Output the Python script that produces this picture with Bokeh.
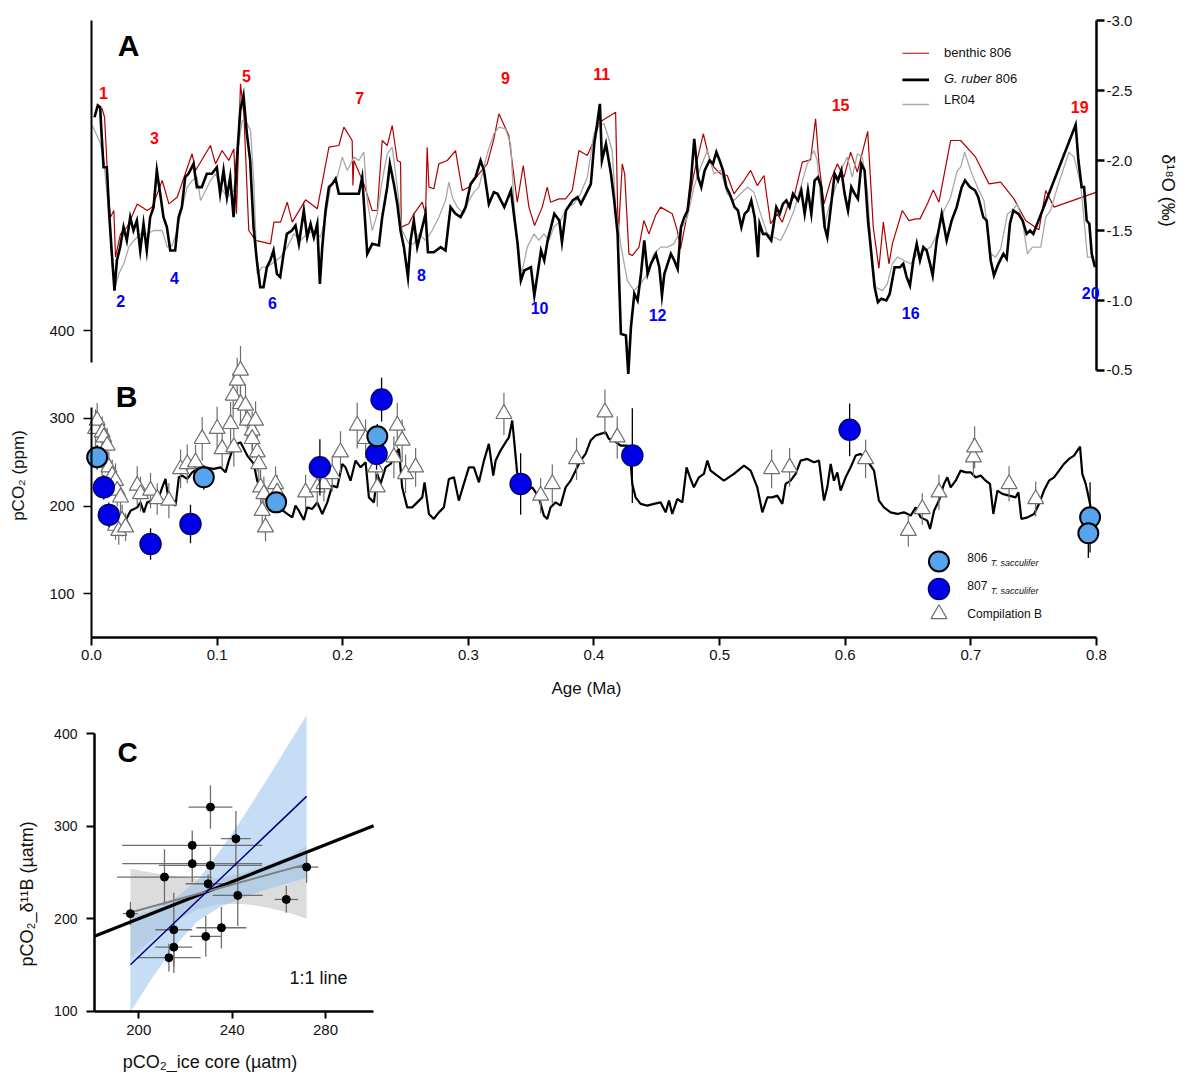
import math
import numpy as np
from bokeh.plotting import figure
from bokeh.models import (Range1d, LinearAxis, FixedTicker, NumeralTickFormatter,
                          Label, LabelSet, ColumnDataSource)
from bokeh.layouts import column
from bokeh.embed import file_html
from bokeh.resources import INLINE
from bokeh.core.properties import value, field

FONT = "Liberation Sans"

# ---------------- Panel A : d18O (age Ma, d18O permil) ----------------
ruber_806 = [
    (0.0024, -2.309), (0.0050, -2.393), (0.0069, -2.381), (0.0077, -2.238), (0.0096, -1.952),
    (0.0122, -1.952), (0.0141, -1.619), (0.0162, -1.333), (0.0183, -1.071), (0.0202, -1.286),
    (0.0228, -1.381), (0.0255, -1.524), (0.0281, -1.429), (0.0308, -1.595), (0.0334, -1.500),
    (0.0361, -1.571), (0.0388, -1.357), (0.0414, -1.548), (0.0440, -1.357), (0.0467, -1.595),
    (0.0494, -1.667), (0.0520, -1.929), (0.0547, -1.762), (0.0573, -1.595), (0.0600, -1.524),
    (0.0627, -1.357), (0.0666, -1.357), (0.0693, -1.595), (0.0719, -1.667), (0.0746, -1.881),
    (0.0772, -1.905), (0.0812, -1.976), (0.0839, -1.810), (0.0878, -1.810), (0.0918, -1.905),
    (0.0958, -1.905), (0.0998, -1.952), (0.1024, -1.762), (0.1051, -1.929), (0.1078, -1.738),
    (0.1104, -1.881), (0.1131, -1.595), (0.1157, -2.000), (0.1184, -2.357), (0.1210, -2.464),
    (0.1237, -2.190), (0.1263, -2.000), (0.1290, -1.524), (0.1316, -1.286), (0.1343, -1.095),
    (0.1369, -1.095), (0.1396, -1.238), (0.1423, -1.286), (0.1449, -1.357), (0.1476, -1.190),
    (0.1502, -1.167), (0.1529, -1.333), (0.1555, -1.476), (0.1595, -1.500), (0.1624, -1.536),
    (0.1651, -1.405), (0.1690, -1.643), (0.1717, -1.452), (0.1744, -1.548), (0.1770, -1.452),
    (0.1797, -1.548), (0.1818, -1.119), (0.1837, -1.381), (0.1863, -1.643), (0.1890, -1.810),
    (0.1916, -1.833), (0.1943, -1.869), (0.1969, -1.762), (0.2128, -1.762), (0.2155, -1.881),
    (0.2195, -1.333), (0.2235, -1.405), (0.2288, -1.393), (0.2314, -1.595), (0.2354, -1.810),
    (0.2375, -1.976), (0.2407, -1.833), (0.2434, -1.690), (0.2460, -1.500), (0.2487, -1.381),
    (0.2519, -1.167), (0.2540, -1.429), (0.2566, -1.571), (0.2593, -1.381), (0.2633, -1.524),
    (0.2659, -1.619), (0.2678, -1.345), (0.2725, -1.345), (0.2779, -1.381), (0.2818, -1.357),
    (0.2858, -1.667), (0.2898, -1.619), (0.2938, -1.595), (0.2978, -1.667), (0.3018, -1.833),
    (0.3057, -1.881), (0.3097, -2.000), (0.3124, -1.929), (0.3163, -1.690), (0.3203, -1.774),
    (0.3232, -1.762), (0.3286, -1.667), (0.3339, -1.786), (0.3365, -1.595), (0.3392, -1.405),
    (0.3418, -1.143), (0.3445, -1.214), (0.3498, -1.238), (0.3525, -1.036), (0.3551, -1.190),
    (0.3578, -1.357), (0.3604, -1.286), (0.3631, -1.429), (0.3684, -1.619), (0.3724, -1.571),
    (0.3745, -1.417), (0.3777, -1.643), (0.3830, -1.714), (0.3869, -1.738), (0.3896, -1.690),
    (0.3936, -1.762), (0.3975, -1.833), (0.4002, -2.119), (0.4029, -2.286), (0.4047, -2.405),
    (0.4063, -2.000), (0.4095, -2.119), (0.4135, -1.905), (0.4161, -1.714), (0.4188, -1.476),
    (0.4214, -0.762), (0.4254, -0.750), (0.4273, -0.476), (0.4294, -0.810), (0.4321, -1.048),
    (0.4347, -1.000), (0.4374, -1.190), (0.4400, -1.429), (0.4427, -1.190), (0.4453, -1.262),
    (0.4493, -1.333), (0.4520, -1.238), (0.4541, -1.036), (0.4560, -1.190), (0.4586, -1.262),
    (0.4612, -1.333), (0.4639, -1.286), (0.4666, -1.226), (0.4692, -1.524), (0.4719, -1.595),
    (0.4745, -1.643), (0.4772, -1.857), (0.4798, -2.155), (0.4828, -1.881), (0.4854, -1.810),
    (0.4881, -1.929), (0.4920, -2.000), (0.4947, -1.976), (0.4974, -2.060), (0.5000, -2.000),
    (0.5027, -1.929), (0.5053, -1.810), (0.5080, -1.762), (0.5119, -1.667), (0.5146, -1.643),
    (0.5173, -1.524), (0.5199, -1.619), (0.5226, -1.643), (0.5252, -1.714), (0.5279, -1.595),
    (0.5305, -1.310), (0.5318, -1.548), (0.5345, -1.476), (0.5372, -1.476), (0.5411, -1.429),
    (0.5451, -1.667), (0.5478, -1.619), (0.5504, -1.690), (0.5531, -1.714), (0.5557, -1.667),
    (0.5584, -1.762), (0.5624, -1.714), (0.5650, -1.786), (0.5677, -1.619), (0.5703, -1.786),
    (0.5730, -1.619), (0.5756, -1.857), (0.5783, -1.881), (0.5809, -1.810), (0.5836, -1.524),
    (0.5857, -1.452), (0.5876, -1.595), (0.5916, -1.905), (0.5942, -1.857), (0.5969, -1.929),
    (0.5995, -1.762), (0.6022, -1.643), (0.6048, -1.810), (0.6075, -1.762), (0.6101, -1.726),
    (0.6128, -1.976), (0.6154, -1.929), (0.6181, -1.571), (0.6208, -1.333), (0.6234, -1.095),
    (0.6260, -0.988), (0.6287, -1.012), (0.6327, -1.000), (0.6354, -1.048), (0.6393, -1.238),
    (0.6436, -1.238), (0.6462, -1.262), (0.6489, -1.167), (0.6515, -1.107), (0.6542, -1.286),
    (0.6569, -1.405), (0.6595, -1.286), (0.6622, -1.381), (0.6648, -1.357), (0.6675, -1.262),
    (0.6696, -1.179), (0.6728, -1.429), (0.6768, -1.619), (0.6807, -1.429), (0.6847, -1.571),
    (0.6887, -1.667), (0.6927, -1.810), (0.6953, -1.857), (0.6993, -1.810), (0.7033, -1.786),
    (0.7059, -1.738), (0.7099, -1.595), (0.7126, -1.571), (0.7158, -1.286), (0.7184, -1.179),
    (0.7219, -1.262), (0.7259, -1.333), (0.7285, -1.298), (0.7311, -1.548), (0.7338, -1.643),
    (0.7378, -1.619), (0.7412, -1.571), (0.7444, -1.476), (0.7471, -1.500), (0.7497, -1.476),
    (0.7834, -2.255), (0.7856, -2.000), (0.7882, -1.810), (0.7901, -1.810), (0.7922, -1.571),
    (0.7943, -1.548), (0.7962, -1.333), (0.7988, -1.238),
]

benthic_806 = [
    (0.0082, -2.375), (0.0104, -2.309), (0.0138, -1.714), (0.0151, -1.595), (0.0178, -1.643),
    (0.0191, -1.310), (0.0231, -1.476), (0.0284, -1.524), (0.0364, -1.690), (0.0443, -1.643),
    (0.0483, -1.667), (0.0563, -1.857), (0.0616, -1.690), (0.0682, -1.738), (0.0801, -2.048),
    (0.0828, -1.929), (0.0947, -2.107), (0.0987, -1.976), (0.1040, -2.071), (0.1093, -2.000),
    (0.1133, -2.083), (0.1154, -1.619), (0.1186, -2.548), (0.1213, -2.333), (0.1252, -1.500),
    (0.1306, -1.429), (0.1425, -1.405), (0.1452, -1.560), (0.1505, -1.560), (0.1558, -1.702),
    (0.1598, -1.560), (0.1704, -1.719), (0.1797, -1.655), (0.1890, -2.095), (0.1969, -2.107),
    (0.2009, -2.238), (0.2075, -2.143), (0.2081, -1.821), (0.2089, -2.000), (0.2168, -1.833),
    (0.2234, -1.643), (0.2275, -1.643), (0.2314, -2.143), (0.2354, -2.107), (0.2394, -2.250),
    (0.2434, -2.000), (0.2460, -1.988), (0.2466, -1.524), (0.2526, -1.548), (0.2566, -1.619),
    (0.2633, -1.702), (0.2659, -1.619), (0.2672, -2.095), (0.2686, -1.810), (0.2725, -1.798),
    (0.2765, -1.976), (0.2832, -2.000), (0.2898, -2.071), (0.2951, -1.786), (0.3004, -1.810),
    (0.3084, -1.905), (0.3150, -1.976), (0.3203, -2.155), (0.3243, -2.334), (0.3322, -2.179),
    (0.3389, -1.702), (0.3437, -1.964), (0.3482, -1.667), (0.3527, -1.536), (0.3588, -1.667),
    (0.3628, -1.810), (0.3654, -1.702), (0.3721, -1.726), (0.3774, -1.726), (0.3827, -1.786),
    (0.3880, -2.071), (0.3947, -2.036), (0.3999, -2.143), (0.4039, -2.262), (0.4066, -2.286),
    (0.4172, -2.345), (0.4193, -1.452), (0.4225, -1.976), (0.4244, -1.905), (0.4278, -1.333),
    (0.4305, -1.321), (0.4358, -1.381), (0.4397, -1.571), (0.4437, -1.476), (0.4490, -1.607),
    (0.4530, -1.667), (0.4623, -1.619), (0.4663, -1.500), (0.4689, -1.371), (0.4743, -1.619),
    (0.4795, -1.905), (0.4870, -2.191), (0.4915, -2.024), (0.4955, -1.952), (0.5008, -1.905),
    (0.5061, -1.893), (0.5114, -1.762), (0.5194, -1.857), (0.5247, -1.929), (0.5300, -1.821),
    (0.5353, -1.893), (0.5406, -1.548), (0.5459, -1.619), (0.5499, -1.560), (0.5539, -1.667),
    (0.5592, -1.738), (0.5658, -1.988), (0.5724, -2.005), (0.5764, -2.298), (0.5791, -1.976),
    (0.5831, -1.690), (0.5884, -1.857), (0.5937, -1.976), (0.5990, -1.881), (0.6043, -2.060),
    (0.6096, -1.917), (0.6179, -2.208), (0.6223, -1.524), (0.6268, -1.230), (0.6303, -1.560),
    (0.6348, -1.262), (0.6375, -1.405), (0.6454, -1.643), (0.6507, -1.571), (0.6561, -1.583),
    (0.6595, -1.583), (0.6653, -1.690), (0.6701, -1.790), (0.6746, -1.702), (0.6839, -2.143),
    (0.6919, -2.143), (0.7038, -2.024), (0.7144, -1.833), (0.7237, -1.845), (0.7343, -1.726),
    (0.7436, -1.571), (0.7542, -1.505), (0.7596, -1.786), (0.7662, -1.667), (0.8000, -1.774),
]

lr04 = [
    (0.0006, -2.250), (0.0032, -2.202), (0.0072, -2.119), (0.0098, -2.000), (0.0138, -1.619),
    (0.0165, -1.238), (0.0191, -1.107), (0.0217, -1.190), (0.0257, -1.262), (0.0297, -1.381),
    (0.0337, -1.429), (0.0390, -1.476), (0.0443, -1.476), (0.0496, -1.500), (0.0563, -1.500),
    (0.0603, -1.381), (0.0642, -1.393), (0.0682, -1.500), (0.0722, -1.667), (0.0762, -1.810),
    (0.0801, -1.857), (0.0841, -1.881), (0.0868, -1.714), (0.0908, -1.786), (0.0947, -1.857),
    (0.0987, -1.905), (0.1027, -1.810), (0.1080, -1.738), (0.1133, -1.786), (0.1160, -2.048),
    (0.1200, -2.286), (0.1240, -2.262), (0.1266, -2.214), (0.1292, -1.845), (0.1319, -1.190),
    (0.1359, -1.238), (0.1399, -1.238), (0.1452, -1.274), (0.1505, -1.310), (0.1558, -1.381),
    (0.1611, -1.476), (0.1664, -1.429), (0.1717, -1.476), (0.1770, -1.500), (0.1823, -1.452),
    (0.1863, -1.595), (0.1903, -1.810), (0.1956, -1.881), (0.1996, -2.024), (0.2036, -1.929),
    (0.2089, -2.024), (0.2128, -2.000), (0.2168, -2.060), (0.2195, -1.714), (0.2235, -1.500),
    (0.2275, -1.619), (0.2314, -1.857), (0.2354, -2.048), (0.2394, -2.095), (0.2434, -1.810),
    (0.2473, -1.500), (0.2526, -1.405), (0.2566, -1.405), (0.2606, -1.476), (0.2659, -1.429),
    (0.2712, -1.500), (0.2765, -1.595), (0.2818, -1.714), (0.2845, -1.845), (0.2872, -1.738),
    (0.2912, -1.667), (0.2964, -1.619), (0.3004, -1.714), (0.3044, -1.774), (0.3084, -1.810),
    (0.3150, -2.048), (0.3203, -2.191), (0.3243, -2.238), (0.3296, -2.226), (0.3336, -2.119),
    (0.3362, -1.714), (0.3402, -1.238), (0.3429, -1.214), (0.3469, -1.381), (0.3522, -1.476),
    (0.3561, -1.429), (0.3601, -1.476), (0.3641, -1.429), (0.3681, -1.524), (0.3734, -1.571),
    (0.3787, -1.667), (0.3840, -1.690), (0.3893, -1.762), (0.3947, -1.881), (0.3999, -2.191),
    (0.4039, -2.262), (0.4079, -2.262), (0.4106, -2.191), (0.4145, -2.071), (0.4172, -1.667),
    (0.4212, -1.405), (0.4265, -1.143), (0.4318, -1.071), (0.4371, -1.119), (0.4424, -1.190),
    (0.4477, -1.333), (0.4530, -1.381), (0.4584, -1.381), (0.4636, -1.405), (0.4689, -1.500),
    (0.4743, -1.595), (0.4795, -1.810), (0.4849, -1.952), (0.4902, -2.071), (0.4955, -1.905),
    (0.5008, -1.929), (0.5061, -1.762), (0.5114, -1.714), (0.5167, -1.762), (0.5221, -1.810),
    (0.5273, -1.774), (0.5326, -1.619), (0.5380, -1.476), (0.5432, -1.452), (0.5486, -1.429),
    (0.5539, -1.524), (0.5592, -1.643), (0.5645, -1.810), (0.5698, -1.976), (0.5751, -2.071),
    (0.5777, -2.000), (0.5804, -1.714), (0.5831, -1.524), (0.5870, -1.667), (0.5924, -1.810),
    (0.5977, -1.952), (0.6016, -2.024), (0.6056, -1.881), (0.6096, -2.048), (0.6136, -2.024),
    (0.6176, -1.786), (0.6216, -1.238), (0.6242, -1.095), (0.6295, -1.071), (0.6335, -1.119),
    (0.6375, -1.262), (0.6415, -1.310), (0.6467, -1.286), (0.6521, -1.262), (0.6574, -1.333),
    (0.6627, -1.357), (0.6680, -1.381), (0.6733, -1.476), (0.6786, -1.643), (0.6839, -1.738),
    (0.6892, -1.929), (0.6919, -1.952), (0.6951, -2.060), (0.6998, -1.929), (0.7052, -1.810),
    (0.7104, -1.714), (0.7158, -1.333), (0.7197, -1.310), (0.7237, -1.369), (0.7291, -1.619),
    (0.7330, -1.643), (0.7370, -1.690), (0.7410, -1.571), (0.7450, -1.333), (0.7490, -1.381),
    (0.7556, -1.381), (0.7596, -1.595), (0.7635, -1.643), (0.7689, -1.810), (0.7741, -1.952),
    (0.7781, -2.060), (0.7821, -2.024), (0.7874, -1.833), (0.7928, -1.310), (0.7980, -1.310),
]

# Marine isotope stage labels (text, age, d18O)
mis_text = ["1", "2", "3", "4", "5", "6", "7", "8", "9", "10", "11", "12", "15", "16", "19", "20"]
mis_age = [0.0096, 0.0232, 0.0502, 0.0661, 0.1234, 0.1441, 0.2134, 0.2627, 0.3296, 0.3567,
           0.4061, 0.4506, 0.5963, 0.6521, 0.7866, 0.7954]
mis_d18o = [-2.479, -1.000, -2.164, -1.164, -2.607, -0.979, -2.443, -1.179, -2.586, -0.950,
            -2.621, -0.900, -2.393, -0.914, -2.379, -1.057]

# ---------------- Panel B : pCO2 ----------------
ice_core = [
    (0.0271, 183.4), (0.0311, 194.7), (0.0364, 198.5), (0.0390, 204.2), (0.0417, 192.8),
    (0.0443, 204.2), (0.0483, 206.2), (0.0523, 204.2), (0.0563, 221.3), (0.0589, 230.9),
    (0.0616, 204.2), (0.0669, 200.5), (0.0695, 232.7), (0.0722, 234.7), (0.0762, 230.9),
    (0.0801, 238.4), (0.0841, 242.3), (0.0894, 244.1), (0.0974, 242.3), (0.1027, 244.1),
    (0.1067, 238.4), (0.1093, 251.8), (0.1133, 268.9), (0.1186, 272.6), (0.1240, 257.5),
    (0.1292, 248.0), (0.1319, 228.9), (0.1359, 213.8), (0.1399, 206.2), (0.1452, 200.5),
    (0.1505, 196.7), (0.1558, 191.0), (0.1598, 187.1), (0.1624, 200.5), (0.1651, 194.7),
    (0.1690, 184.1), (0.1717, 198.5), (0.1757, 196.7), (0.1797, 204.2), (0.1837, 191.0),
    (0.1877, 204.2), (0.1916, 223.3), (0.1956, 221.3), (0.1996, 248.0), (0.2022, 244.1),
    (0.2062, 228.9), (0.2102, 251.8), (0.2142, 244.1), (0.2182, 249.9), (0.2208, 209.9),
    (0.2248, 204.2), (0.2275, 236.6), (0.2301, 225.2), (0.2341, 244.1), (0.2381, 248.0),
    (0.2420, 259.4), (0.2447, 265.1), (0.2473, 221.3), (0.2513, 198.5), (0.2553, 198.5),
    (0.2593, 204.2), (0.2633, 209.9), (0.2651, 227.0), (0.2686, 191.0), (0.2725, 185.3),
    (0.2765, 192.8), (0.2805, 198.5), (0.2845, 230.9), (0.2885, 232.7), (0.2924, 206.2),
    (0.2964, 225.2), (0.3004, 244.1), (0.3044, 244.1), (0.3084, 227.0), (0.3124, 251.8),
    (0.3163, 270.8), (0.3198, 234.7), (0.3217, 251.8), (0.3256, 263.2), (0.3296, 272.6),
    (0.3323, 278.3), (0.3349, 297.4), (0.3362, 278.3), (0.3389, 236.6), (0.3429, 213.8),
    (0.3469, 217.6), (0.3509, 221.3), (0.3561, 209.9), (0.3601, 189.1), (0.3628, 185.3),
    (0.3654, 198.5), (0.3694, 204.2), (0.3734, 200.5), (0.3774, 221.3), (0.3814, 228.9),
    (0.3854, 240.4), (0.3893, 251.8), (0.3933, 259.4), (0.3973, 274.6), (0.4013, 280.3),
    (0.4053, 282.2), (0.4092, 284.0), (0.4119, 276.5), (0.4159, 274.6), (0.4212, 268.9),
    (0.4265, 268.9), (0.4291, 251.8), (0.4305, 225.2), (0.4331, 209.9), (0.4371, 202.4),
    (0.4424, 200.5), (0.4477, 202.4), (0.4530, 204.2), (0.4570, 192.8), (0.4597, 206.2),
    (0.4623, 191.0), (0.4663, 208.0), (0.4703, 204.2), (0.4737, 244.1), (0.4764, 232.7),
    (0.4795, 221.3), (0.4835, 232.7), (0.4875, 236.6), (0.4902, 251.8), (0.4928, 240.4),
    (0.4981, 234.7), (0.5034, 228.9), (0.5114, 236.6), (0.5194, 246.1), (0.5247, 240.4),
    (0.5300, 221.3), (0.5340, 192.8), (0.5380, 209.9), (0.5420, 209.9), (0.5459, 211.9),
    (0.5499, 202.4), (0.5525, 225.2), (0.5565, 228.9), (0.5605, 236.6), (0.5645, 251.8),
    (0.5698, 253.7), (0.5751, 249.9), (0.5791, 251.8), (0.5831, 206.2), (0.5857, 221.3),
    (0.5884, 248.0), (0.5910, 228.9), (0.5937, 238.4), (0.5963, 217.6), (0.6003, 232.7),
    (0.6043, 244.1), (0.6083, 257.5), (0.6123, 259.4), (0.6176, 251.8), (0.6229, 240.4),
    (0.6268, 206.2), (0.6308, 198.5), (0.6361, 192.8), (0.6415, 191.0), (0.6467, 192.8),
    (0.6521, 189.1), (0.6561, 198.5), (0.6600, 187.1), (0.6653, 183.4), (0.6675, 173.9),
    (0.6707, 194.7), (0.6746, 206.2), (0.6786, 225.2), (0.6813, 232.7), (0.6839, 221.3),
    (0.6879, 228.9), (0.6919, 240.4), (0.6959, 238.4), (0.6998, 238.4), (0.7038, 232.7),
    (0.7078, 234.7), (0.7118, 228.9), (0.7152, 225.2), (0.7179, 191.0), (0.7211, 217.6),
    (0.7251, 213.8), (0.7304, 211.9), (0.7357, 209.9), (0.7378, 215.6), (0.7402, 185.3),
    (0.7450, 187.1), (0.7503, 191.0), (0.7542, 202.4), (0.7582, 217.6), (0.7622, 228.9),
    (0.7662, 232.7), (0.7702, 240.4), (0.7741, 248.0), (0.7781, 253.7), (0.7821, 257.5),
    (0.7869, 267.7), (0.7887, 236.6), (0.7914, 225.2), (0.7932, 213.8), (0.7954, 198.5),
]

# Compilation B (age, pCO2, +/- error)
compilation_b = [
    (0.0032, 288.0, 22), (0.0045, 297.4, 20), (0.0085, 284.0, 18), (0.0098, 278.3, 18),
    (0.0125, 268.9, 20), (0.0085, 251.8, 20), (0.0138, 244.1, 18), (0.0165, 234.7, 18),
    (0.0191, 228.9, 20), (0.0205, 217.6, 18), (0.0231, 209.9, 20), (0.0244, 183.4, 18),
    (0.0191, 177.7, 16), (0.0217, 171.9, 16), (0.0271, 175.8, 16), (0.0364, 223.3, 22),
    (0.0390, 213.8, 20), (0.0470, 217.6, 20), (0.0523, 208.0, 18), (0.0616, 206.2, 20),
    (0.0709, 242.3, 22), (0.0762, 248.0, 22), (0.0828, 249.9, 20), (0.0881, 276.5, 25),
    (0.1000, 288.0, 25), (0.1040, 265.1, 22), (0.1107, 293.6, 25), (0.1133, 267.0, 22),
    (0.1128, 325.9, 25), (0.1160, 343.0, 26), (0.1186, 354.4, 28), (0.1186, 316.4, 24),
    (0.1226, 314.5, 24), (0.1240, 297.4, 24), (0.1279, 286.0, 22), (0.1306, 297.4, 22),
    (0.1279, 276.5, 22), (0.1319, 261.3, 22), (0.1332, 248.0, 20), (0.1346, 221.3, 20),
    (0.1372, 213.8, 20), (0.1359, 194.7, 18), (0.1385, 175.8, 16), (0.1465, 225.2, 20),
    (0.1478, 215.6, 20), (0.1704, 215.6, 20), (0.1797, 221.3, 22), (0.1850, 225.2, 20),
    (0.1916, 236.6, 20), (0.1982, 261.3, 24), (0.2115, 291.7, 26), (0.2182, 276.5, 22),
    (0.2261, 244.1, 24), (0.2275, 221.3, 22), (0.2407, 255.6, 24), (0.2434, 291.7, 26),
    (0.2473, 274.6, 24), (0.2500, 236.6, 22), (0.2580, 244.1, 22), (0.3283, 305.0, 24),
    (0.3575, 211.9, 20), (0.3668, 225.2, 22), (0.3861, 253.7, 24), (0.4087, 306.9, 26),
    (0.4185, 278.3, 24), (0.5414, 242.3, 22), (0.5557, 244.1, 22), (0.6162, 253.7, 22),
    (0.6502, 171.9, 18), (0.6613, 196.7, 18), (0.6746, 215.6, 20), (0.7020, 255.6, 22),
    (0.7030, 267.0, 24), (0.7304, 225.2, 20), (0.7516, 208.0, 20),
]

# 806 T. sacculifer (age, pCO2, error)
s806 = [(0.0045, 255.6, 14), (0.0894, 232.7, 14), (0.1470, 204.2, 12), (0.2275, 279.5, 14),
        (0.7949, 187.1, 40), (0.7935, 168.9, 28)]
# 807 T. sacculifer (age, pCO2, error)
s807 = [(0.0098, 221.3, 14), (0.0138, 189.9, 14), (0.0470, 156.8, 18), (0.0788, 179.6, 22),
        (0.1818, 244.1, 32), (0.2269, 259.4, 18), (0.2309, 321.3, 25), (0.3416, 225.2, 35),
        (0.4305, 257.5, 54), (0.6035, 286.8, 30)]

x_ticks = [0.0, 0.1, 0.2, 0.3, 0.4, 0.5, 0.6, 0.7, 0.8]
co2_ticks_upper = [400]
co2_ticks_lower = [100, 200, 300]
d18o_ticks = [-3.0, -2.5, -2.0, -1.5, -1.0, -0.5]

# ---------------- Panel C : cross plot ----------------
ice_core_co2 = [196.4, 211.0, 222.9, 222.9, 230.7, 230.7, 229.7, 241.6, 242.4, 215.0, 215.0,
                212.9, 228.7, 235.4, 263.2, 271.9]
ice_core_err = [3.2, 20.3, 30.0, 30.0, 9.4, 22.1, 9.6, 6.4, 10.7, 7.9, 7.9, 13.6, 6.8, 10.7, 5.0, 5.0]
boron_co2 = [205.4, 245.0, 279.3, 259.5, 320.7, 257.6, 237.8, 286.5, 225.2, 188.0, 169.2,
             157.8, 180.8, 190.2, 220.8, 255.8]
boron_err = [12.6, 30.0, 16.2, 20.0, 23.5, 20.0, 10.0, 30.0, 33.0, 40.0, 28.0, 15.0, 22.0, 22.5, 14.5, 17.0]

band_x = [196.4, 205.0, 215.0, 225.0, 235.0, 245.0, 255.0, 265.0, 271.9]
gray_band_lo = [157, 176, 196, 210, 216, 216, 212, 206, 200]
gray_band_hi = [254, 250, 246, 243, 244, 250, 258, 268, 279]
blue_band_lo = [99, 133, 169, 197, 213, 223, 232, 239, 244]
blue_band_hi = [202, 209, 221, 241, 274, 311, 351, 392, 420]
fit_x = [196.4, 271.9]
gray_fit_y = [206.7, 259.0]
blue_fit_y = [150.2, 332.3]
one_to_one = [181.0, 300.6]

c_xticks = [200, 240, 280]
c_yticks = [100, 200, 300, 400]

# ---------------- styling ----------------
RED_LINE = "#b00000"
GRAY_LINE = "#a8a8a8"
C806 = "#56a4ee"
C807 = "#0000e8"
TRI = "#6e6e6e"
TXT = "#111111"


def unzip(pairs, i):
    return [p[i] for p in pairs]


def style_axis(ax, tick_out, tick_w, line_w, standoff, size):
    ax.axis_line_width = line_w
    ax.major_tick_line_width = tick_w
    ax.major_tick_out = tick_out
    ax.major_tick_in = 0
    ax.minor_tick_line_color = None
    ax.major_label_standoff = standoff
    ax.major_label_text_font = FONT
    ax.major_label_text_font_size = size
    ax.major_label_text_color = TXT


def lab(fig, x, y, text, size, style="normal", align="left", angle=0.0, rng=None, color=TXT):
    kw = dict(x=x, y=y, text=text, text_font=FONT, text_font_size=size,
              text_font_style=style, text_align=align, text_baseline="middle",
              angle=angle, text_color=color)
    if rng:
        kw["y_range_name"] = rng
    fig.add_layout(Label(**kw))


# ================= Figure 1 (panels A and B) =================
# the frame covers the whole figure; axes are drawn at fixed data locations
p = figure(frame_width=1177, frame_height=705,
           x_range=Range1d(-0.07244, 0.86448), y_range=Range1d(-27.25, 776.0),
           x_axis_location=None, y_axis_location=None, min_border=0,
           output_backend="svg", toolbar_location=None)
p.extra_y_ranges = {"d18o": Range1d(start=1.8929, end=-3.1429)}
p.grid.visible = False
p.outline_line_color = None
p.background_fill_color = "white"
p.border_fill_color = "white"

xa = LinearAxis(fixed_location=50.22, bounds=(0.0, 0.8), ticker=FixedTicker(ticks=x_ticks),
                formatter=NumeralTickFormatter(format="0.0"))
style_axis(xa, 8, 2, 2.5, 4, "15px")
p.add_layout(xa, "below")

# left spine in two pieces (panel A part carries the 400 tick, panel B part the rest)
ya_top = LinearAxis(fixed_location=1e-6, bounds=(363.5, 753.2), ticker=FixedTicker(ticks=co2_ticks_upper))
style_axis(ya_top, 8, 1.5, 2, 9, "15px")
p.add_layout(ya_top, "left")
ya = LinearAxis(fixed_location=1e-6, bounds=(50.22, 312.3), ticker=FixedTicker(ticks=co2_ticks_lower))
style_axis(ya, 8, 1.5, 2, 9, "15px")
p.add_layout(ya, "left")

ra = LinearAxis(fixed_location=0.8, y_range_name="d18o", bounds=(-3.0, -0.5),
                ticker=FixedTicker(ticks=d18o_ticks), formatter=NumeralTickFormatter(format="0.0"))
style_axis(ra, 8, 2.5, 2.5, 2, "15px")
p.add_layout(ra, "right")

# Panel A curves
p.line(unzip(benthic_806, 0), unzip(benthic_806, 1), y_range_name="d18o",
       line_color=RED_LINE, line_width=1.2)
p.line(unzip(lr04, 0), unzip(lr04, 1), y_range_name="d18o",
       line_color=GRAY_LINE, line_width=1.3)
p.line(unzip(ruber_806, 0), unzip(ruber_806, 1), y_range_name="d18o",
       line_color="black", line_width=2.6, line_join="miter")

mis_src = ColumnDataSource(dict(
    x=mis_age, y=mis_d18o, t=mis_text,
    c=["#ff0000" if int(t) % 2 == 1 else "#0000ff" for t in mis_text]))
p.add_layout(LabelSet(x="x", y="y", text="t", source=mis_src, y_range_name="d18o",
                      text_color=field("c"), text_font=value(FONT), text_font_size=value("16px"),
                      text_font_style=value("bold"), text_align=value("center"),
                      text_baseline=value("middle")))

# Panel B
p.line(unzip(ice_core, 0), unzip(ice_core, 1), line_color="black", line_width=2.2)

tb_age = np.array(unzip(compilation_b, 0))
tb_co2 = np.array(unzip(compilation_b, 1))
tb_err = np.array(unzip(compilation_b, 2))
p.segment(x0=tb_age, y0=tb_co2 - tb_err, x1=tb_age, y1=tb_co2 + tb_err,
          line_color=TRI, line_width=1.2)
p.scatter(tb_age, tb_co2, marker="triangle", size=16, fill_color="white",
          line_color=TRI, line_width=1.2)

for series in (s806, s807):
    a = np.array(unzip(series, 0))
    v = np.array(unzip(series, 1))
    e = np.array(unzip(series, 2))
    p.segment(x0=a, y0=v - e, x1=a, y1=v + e, line_color="black", line_width=1.3)
for series, fill, edge, lw, sz in ((s807, C807, "#00007a", 1.5, 21), (s806, C806, "black", 2.0, 20)):
    p.scatter(unzip(series, 0), unzip(series, 1), marker="circle", size=sz,
              fill_color=fill, line_color=edge, line_width=lw)

# legend A (manual)
p.line([0.6455, 0.6667], [-2.766, -2.766], y_range_name="d18o", line_color=RED_LINE, line_width=1.2)
p.line([0.6455, 0.6667], [-2.576, -2.576], y_range_name="d18o", line_color="black", line_width=2.6)
p.line([0.6455, 0.6667], [-2.400, -2.400], y_range_name="d18o", line_color=GRAY_LINE, line_width=1.3)
lab(p, 0.6786, -2.770, "benthic 806", "13px", rng="d18o")
lab(p, 0.6786, -2.585, "G. ruber", "13px", style="italic", rng="d18o")
lab(p, 0.7197, -2.585, "806", "13px", rng="d18o")
lab(p, 0.6786, -2.436, "LR04", "13px", rng="d18o")

# legend B (manual)
p.scatter([0.6746], [136.9], marker="circle", size=20, fill_color=C806, line_color="black", line_width=2)
p.scatter([0.6746], [105.4], marker="circle", size=21, fill_color=C807, line_color="#00007a", line_width=1.5)
p.scatter([0.6746], [77.0], marker="triangle", size=16, fill_color="white", line_color=TRI, line_width=1.2)
lab(p, 0.6972, 141.2, "806", "12px")
lab(p, 0.7158, 135.0, "T. sacculifer", "9px", style="italic")
lab(p, 0.6972, 109.6, "807", "12px")
lab(p, 0.7158, 103.4, "T. sacculifer", "9px", style="italic")
lab(p, 0.6972, 77.0, "Compilation B", "12px")

# panel letters and axis titles
lab(p, 0.0295, -2.821, "A", "30px", style="bold", align="center", rng="d18o", color="black")
lab(p, 0.0279, 324.7, "B", "30px", style="bold", align="center", color="black")
lab(p, -0.0581, 234.8, "pCO₂ (ppm)", "17px", align="center", angle=math.pi / 2)
lab(p, 0.8567, -1.786, "δ¹⁸O (‰)", "18px", align="center", angle=-math.pi / 2, rng="d18o")
lab(p, 0.394, -7.9, "Age (Ma)", "17px", align="center")

# ================= Figure 2 (panel C) =================
q = figure(frame_width=380, frame_height=367,
           x_range=Range1d(140.74, 303.56), y_range=Range1d(33.6, 430.6),
           x_axis_location=None, y_axis_location=None, min_border=0,
           output_backend="svg", toolbar_location=None)
q.grid.visible = False
q.outline_line_color = None
q.background_fill_color = "white"
q.border_fill_color = "white"

qx = LinearAxis(fixed_location=100.0, bounds=(181.0, 300.6), ticker=FixedTicker(ticks=c_xticks))
style_axis(qx, 7, 2, 2.5, 7, "15px")
q.add_layout(qx, "below")

qy = LinearAxis(fixed_location=181.0, bounds=(100.0, 400.0), ticker=FixedTicker(ticks=c_yticks))
style_axis(qy, 8, 2, 2.5, 9, "14px")
q.add_layout(qy, "left")

q.varea(x=band_x, y1=gray_band_lo, y2=gray_band_hi, fill_color="#dcdcdc", fill_alpha=1.0)
q.varea(x=band_x, y1=blue_band_lo, y2=blue_band_hi, fill_color="#97c1ef", fill_alpha=0.55)

ix = np.array(ice_core_co2)
ixe = np.array(ice_core_err)
by = np.array(boron_co2)
bye = np.array(boron_err)
q.segment(x0=ix - ixe, y0=by, x1=ix + ixe, y1=by, line_color="#6e6e6e", line_width=1.3)
q.segment(x0=ix, y0=by - bye, x1=ix, y1=by + bye, line_color="#6e6e6e", line_width=1.3)

q.line(one_to_one, one_to_one, line_color="black", line_width=3.2)
q.line(fit_x, gray_fit_y, line_color="#7f7f7f", line_width=2)
q.line(fit_x, blue_fit_y, line_color="#00007f", line_width=1.5)
q.scatter(ix, by, marker="circle", size=8, fill_color="black", line_color="black")

lab(q, 195.2, 379.8, "C", "28px", style="bold", align="center", color="black")
lab(q, 277.0, 135.4, "1:1 line", "18px", align="center")
lab(q, 231.6, 44.5, "pCO₂_ice core  (µatm)", "18px", align="center")
lab(q, 152.3, 229.5, "pCO₂_δ¹¹B  (µatm)", "18px", align="center", angle=math.pi / 2)

layout = column(p, q)
open("out.html", "w").write(file_html(layout, INLINE))
